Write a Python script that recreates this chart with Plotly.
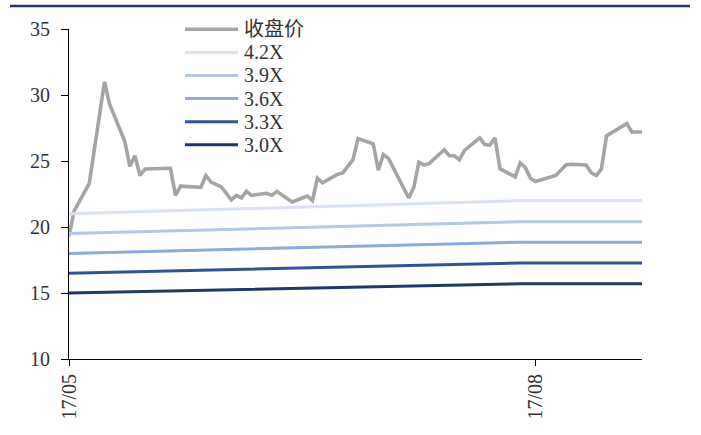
import plotly.graph_objects as go

# ---- data -------------------------------------------------------------
price_dates = [
    "2017-05-01", "2017-05-02", "2017-05-05", "2017-05-08", "2017-05-09",
    "2017-05-12", "2017-05-13", "2017-05-14", "2017-05-15", "2017-05-16",
    "2017-05-21", "2017-05-22", "2017-05-23", "2017-05-27", "2017-05-28",
    "2017-05-29", "2017-05-31", "2017-06-02", "2017-06-03", "2017-06-04",
    "2017-06-05", "2017-06-06", "2017-06-09", "2017-06-10", "2017-06-11",
    "2017-06-14", "2017-06-16", "2017-06-17", "2017-06-18", "2017-06-19",
    "2017-06-20", "2017-06-23", "2017-06-24", "2017-06-26", "2017-06-27",
    "2017-06-30", "2017-07-01", "2017-07-02", "2017-07-03", "2017-07-07",
    "2017-07-08", "2017-07-09", "2017-07-10", "2017-07-11", "2017-07-14",
    "2017-07-15", "2017-07-16", "2017-07-17", "2017-07-18", "2017-07-21",
    "2017-07-22", "2017-07-23", "2017-07-24", "2017-07-25", "2017-07-28",
    "2017-07-29", "2017-07-30", "2017-07-31", "2017-08-01", "2017-08-05",
    "2017-08-07", "2017-08-08", "2017-08-11", "2017-08-12", "2017-08-13",
    "2017-08-14", "2017-08-15", "2017-08-19", "2017-08-20", "2017-08-22",
]
close_price = [
    19.3, 21.2, 23.3, 31.0, 29.3,
    26.5, 24.6, 25.4, 23.9, 24.4,
    24.45, 22.4, 23.1, 23.0, 23.9,
    23.4, 23.05, 22.05, 22.4, 22.2,
    22.7, 22.4, 22.55, 22.4, 22.7,
    21.9, 22.2, 22.35, 22.0, 23.7,
    23.35, 24.0, 24.1, 25.1, 26.7,
    26.3, 24.3, 25.5, 25.2, 22.2,
    23.0, 24.9, 24.7, 24.8, 25.85,
    25.4, 25.4, 25.1, 25.8, 26.75,
    26.25, 26.2, 26.75, 24.4, 23.8,
    24.85, 24.5, 23.7, 23.45, 23.9,
    24.7, 24.75, 24.7, 24.1, 23.9,
    24.4, 26.9, 27.85, 27.2, 27.2,
]

band_dates = ["2017-05-01", "2017-07-29", "2017-08-22"]
pb_42 = [21.0, 22.0, 22.0]
pb_39 = [19.5, 20.4, 20.4]
pb_36 = [18.0, 18.85, 18.85]
pb_33 = [16.5, 17.27, 17.27]
pb_30 = [15.0, 15.7, 15.7]

series_names = ["收盘价", "4.2X", "3.9X", "3.6X", "3.3X", "3.0X"]
series_colors = ["#A5A5A5", "#DAE3F3", "#B4C7E7", "#8FAADC", "#2F5597", "#203864"]
series_widths = [3.6, 3, 3, 3, 3, 3]

x_tick_vals = ["2017-05-01", "2017-08-01"]
x_tick_text = ["17/05", "17/08"]
y_tick_vals = [10, 15, 20, 25, 30, 35]

# ---- figure -----------------------------------------------------------
W, H = 701, 435
ML, MR, MT, MB = 69, 59, 29, 76
PW, PH = W - ML - MR, H - MT - MB

FONT = "Times New Roman, Liberation Serif, Noto Sans CJK SC, serif"
TEXT_COLOR = "#333333"

fig = go.Figure()

band_values = [pb_42, pb_39, pb_36, pb_33, pb_30]

fig.add_trace(go.Scatter(
    x=price_dates, y=close_price, mode="lines", name=series_names[0],
    line=dict(color=series_colors[0], width=series_widths[0]),
    showlegend=False,
))
for name, vals, color, w in zip(series_names[1:], band_values,
                                series_colors[1:], series_widths[1:]):
    fig.add_trace(go.Scatter(
        x=band_dates, y=vals, mode="lines", name=name,
        line=dict(color=color, width=w), showlegend=False,
    ))


def xp(px):
    return (px - ML) / PW


def yp(py):
    return (H - MB - py) / PH


shapes = [
    # dark rule across the top of the page
    dict(type="line", xref="paper", yref="paper",
         x0=xp(10), x1=xp(690), y0=yp(6), y1=yp(6),
         line=dict(color="#1F3864", width=2.5)),
]
annotations = []

# hand-drawn legend with long line samples
for i, (name, color, w) in enumerate(zip(series_names, series_colors, series_widths)):
    cy = 29.3 + i * 23.1
    shapes.append(dict(type="line", xref="paper", yref="paper",
                       x0=xp(185), x1=xp(238), y0=yp(cy), y1=yp(cy),
                       line=dict(color=color, width=w)))
    annotations.append(dict(xref="paper", yref="paper", x=xp(242), y=yp(cy),
                            xanchor="left", yanchor="middle", showarrow=False,
                            text=name, font=dict(family=FONT, size=20, color=TEXT_COLOR)))

fig.update_layout(
    width=W, height=H, autosize=False,
    margin=dict(l=ML, r=MR, t=MT, b=MB, pad=0),
    paper_bgcolor="white", plot_bgcolor="white",
    shapes=shapes, annotations=annotations,
    xaxis=dict(
        type="date", range=["2017-05-01", "2017-08-22"],
        tickvals=x_tick_vals, ticktext=x_tick_text, tickangle=-90,
        showgrid=False, zeroline=False,
        showline=True, linecolor="black", linewidth=1,
        ticks="outside", ticklen=6, tickcolor="black", tickwidth=1,
        tickfont=dict(family=FONT, size=20, color=TEXT_COLOR),
    ),
    yaxis=dict(
        range=[10, 35], tickvals=y_tick_vals,
        showgrid=False, zeroline=False,
        showline=True, linecolor="black", linewidth=1,
        ticks="outside", ticklen=7, tickcolor="black", tickwidth=1,
        ticklabelstandoff=7,
        tickfont=dict(family=FONT, size=20, color=TEXT_COLOR),
    ),
)

fig.write_html("out.html")
